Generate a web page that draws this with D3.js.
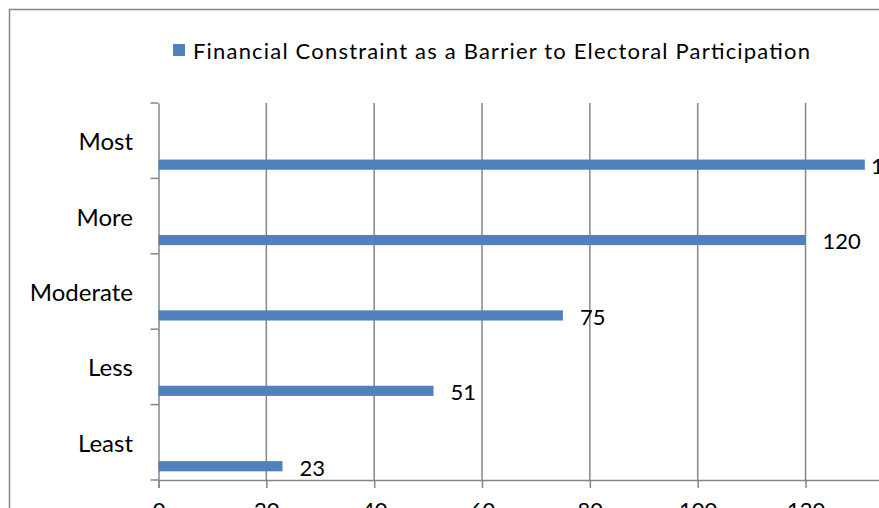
<!DOCTYPE html>
<html>
<head>
<meta charset="utf-8">
<script src="https://cdn.jsdelivr.net/npm/d3@7"></script>
<style>
  body { margin: 0; background: #fff; }
  text { font-family: Lato, "Open Sans", sans-serif; fill: #000; }
</style>
</head>
<body>
<div id="chart"></div>
<script>
// data
const categories = ["Most", "More", "Moderate", "Less", "Least"];
const values = [131, 120, 75, 51, 23];
const xTicks = [0, 20, 40, 60, 80, 100, 120, 140];
const seriesName = "Financial Constraint as a Barrier to Electoral Participation";

const width = 879, height = 508;
const barColor = "#4F81BD";
const gridColor = "#868686";
const fontSize = 22;

const svg = d3.select("#chart").append("svg")
    .attr("width", width)
    .attr("height", height);

// outer chart border
svg.append("rect")
    .attr("x", 9.5).attr("y", 9.5)
    .attr("width", 900).attr("height", 520)
    .attr("fill", "none")
    .attr("stroke", gridColor)
    .attr("stroke-width", 1.5);

const margin = { top: 103, left: 158.5, bottom: 480 };

const xScale = d3.scaleLinear()
    .domain([0, 140])
    .range([margin.left, margin.left + 140 * 5.392]);

const yScale = d3.scaleBand()
    .domain(categories)
    .range([margin.top, margin.bottom]);

// vertical gridlines
svg.append("g")
    .selectAll("line")
    .data(xTicks.slice(1))
    .enter()
    .append("line")
        .attr("x1", d => xScale(d)).attr("x2", d => xScale(d))
        .attr("y1", margin.top).attr("y2", margin.bottom)
        .attr("stroke", gridColor)
        .attr("stroke-width", 1.5);

// x axis
const xAxis = svg.append("g")
    .attr("transform", `translate(0,${margin.bottom})`)
    .call(d3.axisBottom(xScale).tickValues(xTicks).tickSize(8).tickPadding(14));

// y axis
const yAxis = svg.append("g")
    .attr("transform", `translate(${margin.left},0)`)
    .call(d3.axisLeft(yScale).tickValues([]).tickSizeOuter(0));

// y tick marks on band edges
const edges = categories.map(c => yScale(c)).concat([margin.bottom]);
yAxis.selectAll(".edge")
    .data(edges)
    .enter()
    .append("line")
        .attr("class", "edge")
        .attr("x1", -8).attr("x2", 0)
        .attr("y1", d => d).attr("y2", d => d);

[xAxis, yAxis].forEach(a => {
    a.selectAll("path, line").attr("stroke", gridColor).attr("stroke-width", 1.5);
    a.selectAll("text").attr("font-size", fontSize).attr("fill", "#000")
        .style("font-family", 'Lato, sans-serif');
});

// category labels
svg.append("g")
    .selectAll("text")
    .data(categories)
    .enter()
    .append("text")
        .attr("x", 133)
        .attr("y", d => yScale(d) + yScale.bandwidth() * 0.5)
        .attr("text-anchor", "end")
        .attr("dominant-baseline", "central")
        .attr("font-size", 24)
        .text(d => d);

// bars
const bw = yScale.bandwidth();
svg.append("g")
    .selectAll("rect")
    .data(values)
    .enter()
    .append("rect")
        .attr("x", xScale(0))
        .attr("y", (d, i) => yScale(categories[i]) + bw * 0.75)
        .attr("width", d => xScale(d) - xScale(0))
        .attr("height", bw * 0.135)
        .attr("fill", barColor);

// value labels (the top one is pushed back so it shows at the right edge)
svg.append("g")
    .selectAll("text")
    .data(values)
    .enter()
    .append("text")
        .attr("x", d => Math.min(xScale(d) + 17, 871))
        .attr("y", (d, i) => yScale(categories[i]) + bw * 0.83)
        .attr("dominant-baseline", "central")
        .attr("font-size", fontSize)
        .text(d => d);

// legend
svg.append("rect")
    .attr("x", 173).attr("y", 44)
    .attr("width", 12).attr("height", 12)
    .attr("fill", barColor);

svg.append("text")
    .attr("x", 193).attr("y", 50)
    .attr("dominant-baseline", "central")
    .attr("font-size", fontSize)
    .attr("textLength", 617)
    .text(seriesName);
</script>
</body>
</html>
